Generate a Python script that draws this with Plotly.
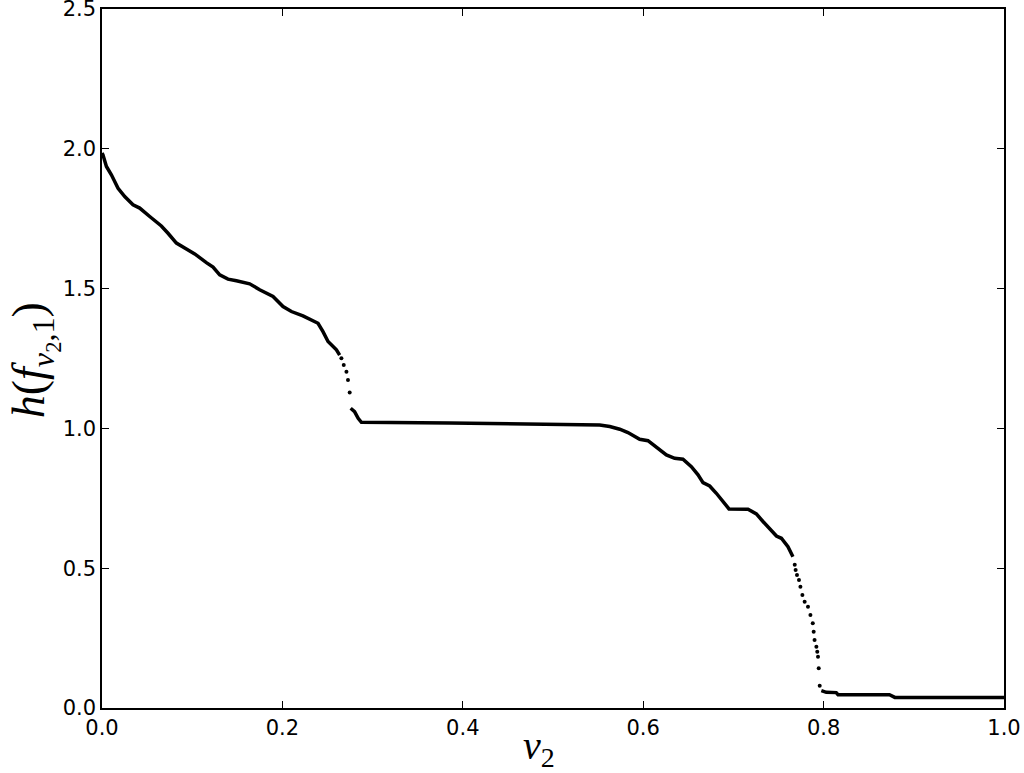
import plotly.graph_objects as go

# Continuous (dense) portions of the curve
seg1_x = [0.0, 0.001, 0.0049, 0.0104, 0.0178, 0.0252, 0.0344, 0.0418, 0.0529, 0.0658, 0.0732,
          0.0825, 0.0917, 0.1028, 0.1157, 0.1231, 0.1305, 0.1397, 0.149, 0.1637, 0.1748, 0.1896,
          0.2007, 0.21, 0.2228, 0.2395, 0.245, 0.2506, 0.2599, 0.2635]
seg1_y = [1.985, 1.979, 1.937, 1.907, 1.859, 1.829, 1.800, 1.788, 1.758, 1.724, 1.698,
          1.663, 1.645, 1.624, 1.593, 1.577, 1.549, 1.534, 1.528, 1.517, 1.496, 1.472,
          1.436, 1.418, 1.4025, 1.376, 1.346, 1.311, 1.281, 1.262]

seg2_x = [0.2757, 0.280, 0.284, 0.2876, 0.3855, 0.4853, 0.5518, 0.5629, 0.574, 0.5831, 0.5961,
          0.6053, 0.6164, 0.6257, 0.6349, 0.6441, 0.6534, 0.6608, 0.6663, 0.6737, 0.6811, 0.6885,
          0.6951, 0.7162, 0.7255, 0.7328, 0.7421, 0.7477, 0.7532, 0.7605, 0.766]
seg2_y = [1.072, 1.060, 1.036, 1.022, 1.019, 1.016, 1.0125, 1.0065, 0.997, 0.985, 0.961,
          0.956, 0.929, 0.905, 0.893, 0.890, 0.863, 0.834, 0.806, 0.794, 0.768, 0.738,
          0.712, 0.711, 0.694, 0.667, 0.637, 0.615, 0.607, 0.577, 0.541]

seg3_x = [0.7975, 0.803, 0.814, 0.816, 0.873, 0.879, 1.0]
seg3_y = [0.062, 0.056, 0.055, 0.0476, 0.0476, 0.038, 0.038]

# Sparse dots on the steep drops
dots_x = [0.2654, 0.268, 0.271, 0.2727, 0.2746,
          0.768, 0.769, 0.7705, 0.7727, 0.7743, 0.7765, 0.779, 0.7827, 0.7854, 0.788, 0.789,
          0.790, 0.792, 0.793, 0.7938, 0.7946, 0.7957]
dots_y = [1.251, 1.227, 1.203, 1.173, 1.128,
          0.512, 0.494, 0.476, 0.458, 0.434, 0.404, 0.380, 0.362, 0.333, 0.303, 0.273,
          0.243, 0.219, 0.201, 0.1835, 0.142, 0.080]

x_ticks = [0.0, 0.2, 0.4, 0.6, 0.8, 1.0]
y_ticks = [0.0, 0.5, 1.0, 1.5, 2.0, 2.5]

fig = go.Figure()
for xs, ys in [(seg1_x, seg1_y), (seg2_x, seg2_y), (seg3_x, seg3_y)]:
    fig.add_trace(go.Scatter(x=xs, y=ys, mode="lines",
                             line=dict(color="black", width=3.5, shape="linear"),
                             showlegend=False, hoverinfo="skip", cliponaxis=False))
fig.add_trace(go.Scatter(x=dots_x, y=dots_y, mode="markers",
                         marker=dict(color="black", size=4),
                         showlegend=False, hoverinfo="skip"))

axis_common = dict(
    showgrid=False, zeroline=False, showline=True, linecolor="black", linewidth=1.5,
    mirror="ticks", ticks="inside", ticklen=7, tickwidth=1, tickcolor="black",
    automargin=False, ticklabeloverflow="allow",
    tickfont=dict(family="DejaVu Sans", size=21, color="black"),
)

fig.update_xaxes(range=[0, 1.00001], tickvals=x_ticks, ticktext=[f"{v:.1f}" for v in x_ticks],
                 **axis_common)
fig.update_yaxes(range=[0, 2.50001], tickvals=y_ticks, ticktext=[f"{v:.1f}" for v in y_ticks],
                 **axis_common)

fig.add_annotation(text="<i>v</i><sub>2</sub>", xref="paper", yref="paper",
                   x=0.485, y=-0.057, showarrow=False, xanchor="center", yanchor="middle",
                   font=dict(family="Liberation Serif", size=40, color="black"))
fig.add_annotation(text="<i>h</i>(<i>f</i><sub><i>v</i><sub>2</sub>,1</sub>)", xref="paper", yref="paper",
                   x=-0.075, y=0.498, showarrow=False, textangle=-90,
                   xanchor="center", yanchor="middle",
                   font=dict(family="Liberation Serif", size=46, color="black"))

fig.update_layout(
    width=1024, height=773,
    margin=dict(l=102, r=20, t=9, b=65),
    plot_bgcolor="white", paper_bgcolor="white",
)

fig.write_html("out.html",
               config={"displayModeBar": False},
               post_script="document.body.style.margin='0';document.body.style.overflow='hidden';")
